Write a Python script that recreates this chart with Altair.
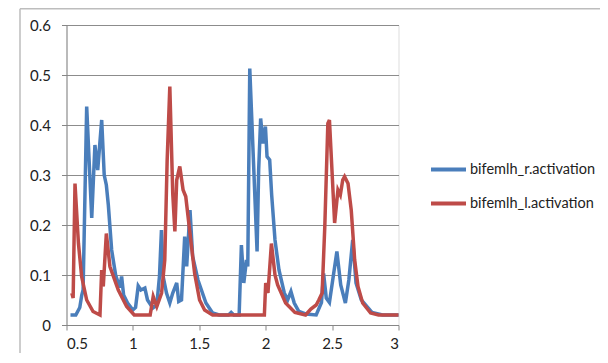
import altair as alt
import pandas as pd

# Series: bifemlh_r.activation (blue)
r_x = [0.53, 0.57, 0.60, 0.615, 0.625, 0.652, 0.69, 0.714, 0.735, 0.765, 0.784, 0.80, 0.815,
       0.84, 0.87, 0.90, 0.915, 0.93, 0.96, 1.00, 1.02, 1.04, 1.06, 1.09, 1.11, 1.15, 1.18,
       1.20, 1.215, 1.228, 1.253, 1.278, 1.30, 1.33, 1.345, 1.366, 1.39, 1.405, 1.43, 1.45,
       1.49, 1.55, 1.60, 1.65, 1.72, 1.74, 1.76, 1.80, 1.817, 1.835, 1.855, 1.865, 1.88,
       1.935, 1.947, 1.962, 1.98, 1.998, 2.01, 2.03, 2.045, 2.07, 2.10, 2.14, 2.165, 2.19,
       2.215, 2.25, 2.30, 2.38, 2.42, 2.436, 2.456, 2.48, 2.536, 2.565, 2.60, 2.626, 2.655,
       2.68, 2.72, 2.80, 2.88, 3.0]
r_y = [0.02, 0.02, 0.035, 0.06, 0.07, 0.437, 0.214, 0.36, 0.31, 0.41, 0.30, 0.28, 0.24,
       0.15, 0.10, 0.075, 0.097, 0.06, 0.044, 0.03, 0.035, 0.078, 0.07, 0.074, 0.05, 0.034, 0.04,
       0.097, 0.19, 0.097, 0.064, 0.044, 0.064, 0.084, 0.047, 0.05, 0.177, 0.117, 0.23, 0.137,
       0.09, 0.044, 0.024, 0.02, 0.02, 0.025, 0.02, 0.02, 0.16, 0.084, 0.13, 0.117, 0.513,
       0.147, 0.31, 0.413, 0.363, 0.397, 0.337, 0.33, 0.26, 0.17, 0.11, 0.064, 0.05, 0.067,
       0.044, 0.027, 0.022, 0.02, 0.045, 0.103, 0.054, 0.045, 0.147, 0.08, 0.044, 0.09, 0.17,
       0.084, 0.05, 0.025, 0.02, 0.02]

# Series: bifemlh_l.activation (red)
l_x = [0.54, 0.55, 0.564, 0.59, 0.614, 0.652, 0.70, 0.752, 0.765, 0.777, 0.80, 0.827, 0.89,
       0.953, 1.01, 1.13, 1.153, 1.18, 1.216, 1.24, 1.258, 1.278, 1.30, 1.316, 1.33, 1.353,
       1.378, 1.398, 1.43, 1.465, 1.502, 1.54, 1.60, 1.99, 2.0, 2.017, 2.043, 2.07, 2.09,
       2.15, 2.22, 2.30, 2.34, 2.38, 2.40, 2.425, 2.445, 2.468, 2.48, 2.49, 2.519, 2.544,
       2.562, 2.58, 2.594, 2.62, 2.644, 2.67, 2.695, 2.73, 2.79, 2.85, 3.0]
l_y = [0.064, 0.054, 0.283, 0.163, 0.097, 0.05, 0.027, 0.02, 0.11, 0.077, 0.183, 0.117, 0.07,
       0.037, 0.02, 0.02, 0.057, 0.037, 0.064, 0.13, 0.33, 0.477, 0.263, 0.187, 0.29, 0.317,
       0.27, 0.257, 0.183, 0.103, 0.05, 0.03, 0.02, 0.02, 0.084, 0.064, 0.163, 0.10, 0.08,
       0.044, 0.025, 0.02, 0.032, 0.04, 0.05, 0.064, 0.197, 0.403, 0.41, 0.357, 0.204, 0.27,
       0.26, 0.29, 0.297, 0.283, 0.23, 0.13, 0.077, 0.044, 0.024, 0.02, 0.02]

series_names = ["bifemlh_r.activation", "bifemlh_l.activation"]
series_colors = ["#4a7ebb", "#be4b48"]
x_ticks = [0.5, 1, 1.5, 2, 2.5, 3]
y_ticks = [0, 0.1, 0.2, 0.3, 0.4, 0.5, 0.6]

rows = []
for i, (xx, yy) in enumerate(zip(r_x, r_y)):
    rows.append({"x": xx, "y": yy, "series": series_names[0], "idx": i})
for i, (xx, yy) in enumerate(zip(l_x, l_y)):
    rows.append({"x": xx, "y": yy, "series": series_names[1], "idx": i})
df = pd.DataFrame(rows)

FONT = "Lato"

lines = alt.Chart(df).mark_line(strokeWidth=3.5, clip=False).encode(
    x=alt.X("x:Q", scale=alt.Scale(domain=[0.5, 3], nice=False, zero=False),
            axis=alt.Axis(values=x_ticks, grid=False, title=None, labelExpr="datum.value + ''",
                          tickSize=5, labelPadding=6, domainColor="#868686", tickColor="#868686",
                          labelFont=FONT, labelFontSize=15, labelColor="#222")),
    y=alt.Y("y:Q", scale=alt.Scale(domain=[0, 0.6], nice=False),
            axis=alt.Axis(values=y_ticks, grid=True, gridColor="#8c8c8c", title=None,
                          labelExpr="datum.value + ''", tickSize=5, labelPadding=11,
                          domainColor="#868686", tickColor="#868686",
                          labelFont=FONT, labelFontSize=15, labelColor="#222")),
    color=alt.Color("series:N", scale=alt.Scale(domain=series_names, range=series_colors),
                    legend=alt.Legend(title=None, orient="none", legendX=362.5, legendY=125,
                                      symbolType="stroke", symbolSize=1225, symbolStrokeWidth=4,
                                      labelFont=FONT, labelFontSize=14.5, labelColor="#222",
                                      labelOffset=2, rowPadding=6)),
    order="idx:Q",
)

frame_df = pd.DataFrame({"a": [0]})
frame_left = alt.Chart(frame_df).mark_rule(color="#bdbdbd", strokeWidth=1.5).encode(
    x=alt.value(-46.5), y=alt.value(-16.2), y2=alt.value(345))
frame_top = alt.Chart(frame_df).mark_rule(color="#bdbdbd", strokeWidth=1.5).encode(
    x=alt.value(-46.5), x2=alt.value(545), y=alt.value(-16.2))

chart = alt.layer(frame_left, frame_top, lines).properties(
    width=332, height=300,
    autosize=alt.AutoSizeParams(type="none"),
    padding={"left": 58.5, "top": 17, "right": 201, "bottom": 28},
).configure_view(stroke=None).configure(background="white")

chart.save("out.html", embed_options={"renderer": "svg", "actions": False})
